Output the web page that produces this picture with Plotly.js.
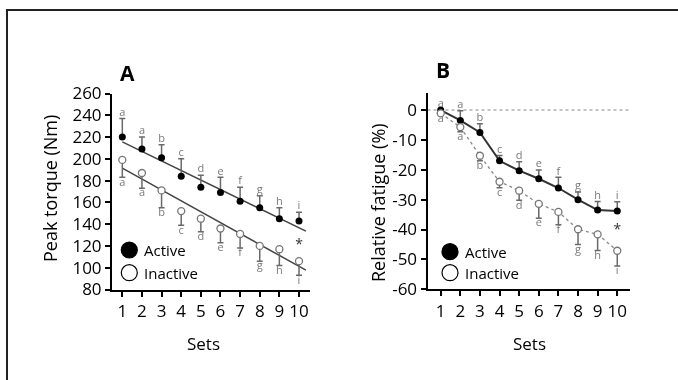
<!DOCTYPE html>
<html>
<head>
<meta charset="utf-8">
<script src="https://cdn.plot.ly/plotly-3.0.1.min.js"></script>
<style>
  html, body { margin: 0; padding: 0; background: #fff; }
  /* monochrome figure: keep small text rendered in neutral grey */
  #chart { width: 678px; height: 380px; filter: grayscale(100%); }
</style>
</head>
<body>
<div id="chart"></div>
<script>
// Sets performed
const sets = [1, 2, 3, 4, 5, 6, 7, 8, 9, 10];
// Significance letters per set
const sigLetters = ['a', 'a', 'b', 'c', 'd', 'e', 'f', 'g', 'h', 'i'];

// Panel A: peak torque (Nm), mean and SD limit
const torqueActive        = [220, 209, 201, 184, 174, 169, 161, 155, 145, 143];
const torqueActiveUpper   = [237, 220, 213, 200, 185, 183, 174, 166, 155, 151];
const torqueInactive      = [199, 187, 171, 152, 145, 136, 131, 120, 117, 106];
const torqueInactiveLower = [183, 173, 155, 139, 133, 123, 118, 106, 102, 93];

// Panel B: relative fatigue (%), mean and SD limit
const fatigueActive        = [0, -3.5, -7.5, -17, -20.3, -23, -26.1, -30, -33.5, -33.8];
const fatigueActiveUpper   = [0, -0.2, -4.6, -15.2, -17.3, -20.1, -22.5, -27.4, -30.6, -30.7];
const fatigueInactive      = [-1.1, -5.7, -15.3, -24, -27, -31.4, -34.1, -39.9, -41.6, -47.1];
const fatigueInactiveLower = [-1.1, -7.3, -17, -26, -30.2, -36.2, -38.4, -45, -47, -52.2];

// Between-group difference marker
const starSet = [10];
const starTorque = [120];
const starFatigue = [-40.4];

// Axis ticks
const torqueTicks = [80, 100, 120, 140, 160, 180, 200, 220, 240, 260];
const fatigueTicks = [-60, -50, -40, -30, -20, -10, 0];

const W = 678, H = 380;
const fx = p => p / W;          // pixel -> paper x
const fy = p => 1 - p / H;      // pixel -> paper y

const FONT = 'Open Sans, Noto Sans, sans-serif';
const GREY = '#6a6a6a';
const letterFont = () => ({ family: FONT, size: 11, color: '#7a7a7a' });
const starFont = () => ({ family: FONT, size: 14, color: '#333333' });

function gap(a, b) { return a.map((v, i) => Math.abs(v - b[i])); }
function zeros(n) { return new Array(n).fill(0); }

// Least-squares regression line over the sets
function fitLine(xs, ys, x0, x1) {
  const n = xs.length;
  const mx = xs.reduce((s, v) => s + v, 0) / n;
  const my = ys.reduce((s, v) => s + v, 0) / n;
  let sxy = 0, sxx = 0;
  for (let i = 0; i < n; i++) { sxy += (xs[i] - mx) * (ys[i] - my); sxx += (xs[i] - mx) ** 2; }
  const b = sxy / sxx, a = my - b * mx;
  return { x: [x0, x1], y: [a + b * x0, a + b * x1] };
}

const lineEnd = sets[sets.length - 1] + 0.35;
const fitActive = fitLine(sets, torqueActive, sets[0], lineEnd);
const fitInactive = fitLine(sets, torqueInactive, sets[0], lineEnd);

const activeMarker = () => ({ color: '#000', size: 7, line: { color: '#000', width: 0 } });
const inactiveMarker = () => ({ color: '#fff', size: 7, line: { color: '#777', width: 1.3 } });

function upErr(vals, upper) {
  return { type: 'data', symmetric: false, array: gap(upper, vals), arrayminus: zeros(vals.length),
           color: GREY, thickness: 1.5, width: 3 };
}
function downErr(vals, lower) {
  return { type: 'data', symmetric: false, array: zeros(vals.length), arrayminus: gap(vals, lower),
           color: GREY, thickness: 1.5, width: 3 };
}
function letters(xa, ya, yv, pos) {
  return { x: sets, y: yv, xaxis: xa, yaxis: ya, mode: 'text', text: sigLetters,
           textposition: pos, textfont: letterFont(), hoverinfo: 'skip' };
}
function star(xa, ya, yv) {
  return { x: starSet, y: yv, xaxis: xa, yaxis: ya, mode: 'text', text: ['*'],
           textposition: 'middle center', textfont: starFont(), hoverinfo: 'skip' };
}

const traces = [
  // ---- Panel A ----
  { x: fitActive.x, y: fitActive.y, xaxis: 'x', yaxis: 'y', mode: 'lines',
    line: { color: '#444', width: 1.5 }, hoverinfo: 'skip' },
  { x: fitInactive.x, y: fitInactive.y, xaxis: 'x', yaxis: 'y', mode: 'lines',
    line: { color: '#444', width: 1.5 }, hoverinfo: 'skip' },
  { x: sets, y: torqueActive, xaxis: 'x', yaxis: 'y', mode: 'markers', name: 'Active',
    marker: activeMarker(), error_y: upErr(torqueActive, torqueActiveUpper) },
  { x: sets, y: torqueInactive, xaxis: 'x', yaxis: 'y', mode: 'markers', name: 'Inactive',
    marker: inactiveMarker(), error_y: downErr(torqueInactive, torqueInactiveLower) },
  letters('x', 'y', torqueActiveUpper, 'top center'),
  letters('x', 'y', torqueInactiveLower, 'bottom center'),
  star('x', 'y', starTorque),

  // ---- Panel B ----
  { x: sets, y: fatigueActive, xaxis: 'x2', yaxis: 'y2', mode: 'lines+markers', name: 'Active',
    line: { color: '#333', width: 2 }, marker: activeMarker(),
    error_y: upErr(fatigueActive, fatigueActiveUpper) },
  { x: sets, y: fatigueInactive, xaxis: 'x2', yaxis: 'y2', mode: 'lines+markers', name: 'Inactive',
    line: { color: '#8a8a8a', width: 1.3, dash: 'dot' }, marker: inactiveMarker(),
    error_y: downErr(fatigueInactive, fatigueInactiveLower) },
  letters('x2', 'y2', fatigueActiveUpper, 'top center'),
  letters('x2', 'y2', fatigueInactiveLower, 'bottom center'),
  star('x2', 'y2', starFatigue)
];

const axisStyle = () => ({
  showline: true, linecolor: '#000', linewidth: 2,
  ticks: 'outside', ticklen: 5, tickwidth: 2, tickcolor: '#000',
  showgrid: false, zeroline: false, fixedrange: true,
  tickfont: { family: FONT, size: 17, color: '#000' }
});

// Legend symbols and labels, one block per panel
function legendShapes(cx, cyA, cyI) {
  const r = 8;
  return [
    { type: 'circle', xref: 'paper', yref: 'paper', x0: fx(cx - r), x1: fx(cx + r), y0: fy(cyA + r), y1: fy(cyA - r),
      fillcolor: '#000', line: { color: '#000', width: 1.2 } },
    { type: 'circle', xref: 'paper', yref: 'paper', x0: fx(cx - r), x1: fx(cx + r), y0: fy(cyI + r), y1: fy(cyI - r),
      fillcolor: '#fff', line: { color: '#000', width: 1.2 } }
  ];
}
function legendLabels(tx, cyA, cyI) {
  const base = () => ({ xref: 'paper', yref: 'paper', showarrow: false, xanchor: 'left', yanchor: 'middle',
                        font: { family: FONT, size: 15, color: '#000' } });
  return [
    Object.assign(base(), { x: fx(tx), y: fy(cyA), text: 'Active' }),
    Object.assign(base(), { x: fx(tx), y: fy(cyI), text: 'Inactive' })
  ];
}

const titleFont = () => ({ family: FONT, size: 18, color: '#000' });
const annotations = [
  { xref: 'paper', yref: 'paper', x: fx(127.5), y: fy(72.5), text: '<b>A</b>', showarrow: false,
    xanchor: 'center', yanchor: 'middle', font: { family: FONT, size: 21, color: '#000' } },
  { xref: 'paper', yref: 'paper', x: fx(442.5), y: fy(70.5), text: '<b>B</b>', showarrow: false,
    xanchor: 'center', yanchor: 'middle', font: { family: FONT, size: 21, color: '#000' } },
  { xref: 'paper', yref: 'paper', x: fx(50), y: fy(189), text: 'Peak torque (Nm)', textangle: -90,
    showarrow: false, xanchor: 'center', yanchor: 'middle', font: titleFont() },
  { xref: 'paper', yref: 'paper', x: fx(377.5), y: fy(202.5), text: 'Relative fatigue (%)', textangle: -90,
    showarrow: false, xanchor: 'center', yanchor: 'middle', font: titleFont() },
  { xref: 'paper', yref: 'paper', x: fx(203), y: fy(343.5), text: 'Sets', showarrow: false,
    xanchor: 'center', yanchor: 'middle', font: { family: FONT, size: 17, color: '#000' } },
  { xref: 'paper', yref: 'paper', x: fx(529.5), y: fy(343.5), text: 'Sets', showarrow: false,
    xanchor: 'center', yanchor: 'middle', font: { family: FONT, size: 17, color: '#000' } }
].concat(legendLabels(142, 250, 272.7), legendLabels(463, 251.7, 272.7));

const shapes = [
  // outer frame
  { type: 'rect', xref: 'paper', yref: 'paper', x0: fx(7), x1: 1.1, y0: -0.1, y1: fy(10),
    line: { color: '#222', width: 2 }, fillcolor: 'rgba(0,0,0,0)', layer: 'below' },
  // zero reference line in panel B
  { type: 'line', xref: 'x2 domain', yref: 'y2', x0: 0, x1: 1, y0: 0, y1: 0,
    line: { color: '#888', width: 1, dash: 'dot' }, layer: 'below' }
].concat(legendShapes(129.3, 250, 272.7), legendShapes(450, 251.7, 272.7));

const layout = {
  width: W, height: H,
  margin: { l: 0, r: 0, t: 0, b: 0 },
  paper_bgcolor: '#fff', plot_bgcolor: 'rgba(0,0,0,0)',
  showlegend: false,
  font: { family: FONT, color: '#000' },
  xaxis: Object.assign(axisStyle(), { domain: [fx(112), fx(310)], range: [0.475, 10.56],
    anchor: 'y', tickvals: sets }),
  yaxis: Object.assign(axisStyle(), { domain: [fy(289.5), fy(93.5)], range: [80, 260],
    anchor: 'x', tickvals: torqueTicks }),
  xaxis2: Object.assign(axisStyle(), { domain: [fx(427.5), fx(630)], range: [0.327, 10.65],
    anchor: 'y2', tickvals: sets }),
  yaxis2: Object.assign(axisStyle(), { domain: [fy(289.3), fy(93.3)], range: [-60, 5.6],
    anchor: 'x2', tickvals: fatigueTicks, ticktext: fatigueTicks.map(String) }),
  annotations: annotations,
  shapes: shapes
};

Plotly.newPlot('chart', traces, layout, { displayModeBar: false, staticPlot: true });
</script>
</body>
</html>
